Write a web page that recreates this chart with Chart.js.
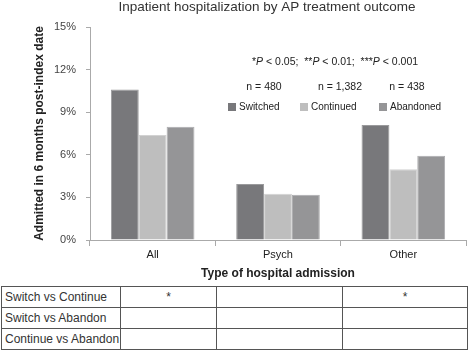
<!DOCTYPE html>
<html>
<head>
<meta charset="utf-8">
<script src="https://cdn.jsdelivr.net/npm/chart.js@4.4.1/dist/chart.umd.min.js"></script>
<style>
  body { margin: 0; background: #fff; font-family: "Liberation Sans", Arial, sans-serif; }
  #wrap { width: 468px; height: 285px; position: relative; }
  table { position: absolute; left: 1px; top: 286px; border-collapse: collapse; table-layout: fixed; width: 467px; }
  tr { height: 21px; }
  td { border: 1px solid #555; padding: 0 0 0 3px; font-size: 12px; color: #333; white-space: nowrap; overflow: hidden; }
  td.c { text-align: center; padding: 0; }
</style>
</head>
<body>
<div id="wrap"><canvas id="chart"></canvas></div>
<table id="sig"></table>
<script>
// categories and series (percent admitted)
const categories = ["All", "Psych", "Other"];
const seriesNames = ["Switched", "Continued", "Abandoned"];
const switched = [10.6, 3.95, 8.1];
const continued = [7.4, 3.25, 4.98];
const abandoned = [7.98, 3.18, 5.94];
const nLabels = ["n = 480", "n = 1,382", "n = 438"];
const yTicks = [0, 3, 6, 9, 12, 15];
const chartTitle = "Inpatient hospitalization by AP treatment outcome";

// significance table
const compareRows = ["Switch vs Continue", "Switch vs Abandon", "Continue vs Abandon"];
const compareMarks = [["*", "", "*"], ["", "", ""], ["", "", ""]];

const colors = ["#78787b", "#bebebe", "#959597"];
const borders = ["#9a9a9c", "#d2d2d2", "#acacae"];
const FONT = "'Liberation Sans', Arial, sans-serif";

// build the table under the chart
const colWidths = [119, 96, 126, 125];
let html = "<colgroup>" + colWidths.map(w => `<col style="width:${w}px">`).join("") + "</colgroup>";
compareRows.forEach((row, i) => {
  html += `<tr><td>${row}</td>` + compareMarks[i].map(m => `<td class="c">${m}</td>`).join("") + "</tr>";
});
document.getElementById("sig").innerHTML = html;

// draws the title, p-value note, n labels and legend inside the plot
const notesPlugin = {
  id: "notes",
  afterDraw(chart) {
    const ctx = chart.ctx;
    const area = chart.chartArea;
    ctx.save();
    ctx.textBaseline = "middle";

    // title (slightly right of canvas centre, as in the original)
    ctx.fillStyle = "#333";
    ctx.font = "13.5px " + FONT;
    ctx.textAlign = "center";
    ctx.fillText(chartTitle, 267, 7);

    ctx.fillStyle = "#222";
    // p-value line with italic P
    const runs = [["*", 0], ["P", 1], [" < 0.05;  **", 0], ["P", 1], [" < 0.01;  ***", 0], ["P", 1], [" < 0.001", 0]];
    let x = area.left + 162;
    const yP = area.top + 35;
    ctx.textAlign = "left";
    runs.forEach(([t, it]) => {
      ctx.font = (it ? "italic " : "") + "10.5px " + FONT;
      ctx.fillText(t, x, yP);
      x += ctx.measureText(t).width;
    });

    // n labels
    ctx.font = "10.5px " + FONT;
    ctx.textAlign = "center";
    const nX = [264, 340, 407];
    nLabels.forEach((t, i) => ctx.fillText(t, nX[i], area.top + 60));

    // legend
    ctx.font = "10px " + FONT;
    const lx = [228, 300, 379];
    const ly = area.top + 80;
    seriesNames.forEach((name, i) => {
      ctx.fillStyle = colors[i];
      ctx.fillRect(lx[i], ly - 4, 8, 8);
      ctx.fillStyle = "#222";
      ctx.textAlign = "left";
      ctx.fillText(name, lx[i] + 11, ly);
    });
    ctx.restore();
  }
};

new Chart(document.getElementById("chart"), {
  type: "bar",
  data: {
    labels: categories,
    datasets: [switched, continued, abandoned].map((vals, i) => ({
      label: seriesNames[i],
      data: vals,
      backgroundColor: colors[i],
      borderColor: borders[i],
      borderWidth: 1,
      categoryPercentage: 0.667,
      barPercentage: 1
    }))
  },
  options: {
    responsive: true,
    maintainAspectRatio: false,
    animation: false,
    layout: { padding: { left: 0, right: 2, top: 27, bottom: 0 } },
    plugins: {
      legend: { display: false },
      tooltip: { enabled: false },
      title: { display: false }
    },
    scales: {
      x: {
        grid: { display: true, drawOnChartArea: false, offset: true, color: "#aaa", tickLength: 6 },
        border: { color: "#aaa" },
        ticks: { color: "#222", font: { family: FONT, size: 11 }, padding: 2 },
        title: {
          display: true,
          text: "Type of hospital admission",
          color: "#222",
          font: { family: FONT, size: 12, weight: "bold" },
          padding: { top: 4 }
        },
        afterFit: s => { s.height = 45; }
      },
      y: {
        min: 0,
        max: 15,
        afterBuildTicks: s => { s.ticks = yTicks.map(v => ({ value: v })); },
        grid: { display: true, drawOnChartArea: false, color: "#aaa", tickLength: 4 },
        border: { color: "#aaa" },
        ticks: {
          color: "#444",
          font: { family: FONT, size: 11 },
          padding: 10,
          callback: v => v + "%"
        },
        title: {
          display: true,
          text: "Admitted in 6 months post-index date",
          color: "#222",
          font: { family: FONT, size: 12, weight: "bold" },
          padding: { top: 32, bottom: 0 }
        },
        afterFit: s => { s.width = 90; }
      }
    }
  },
  plugins: [notesPlugin]
});
</script>
</body>
</html>
